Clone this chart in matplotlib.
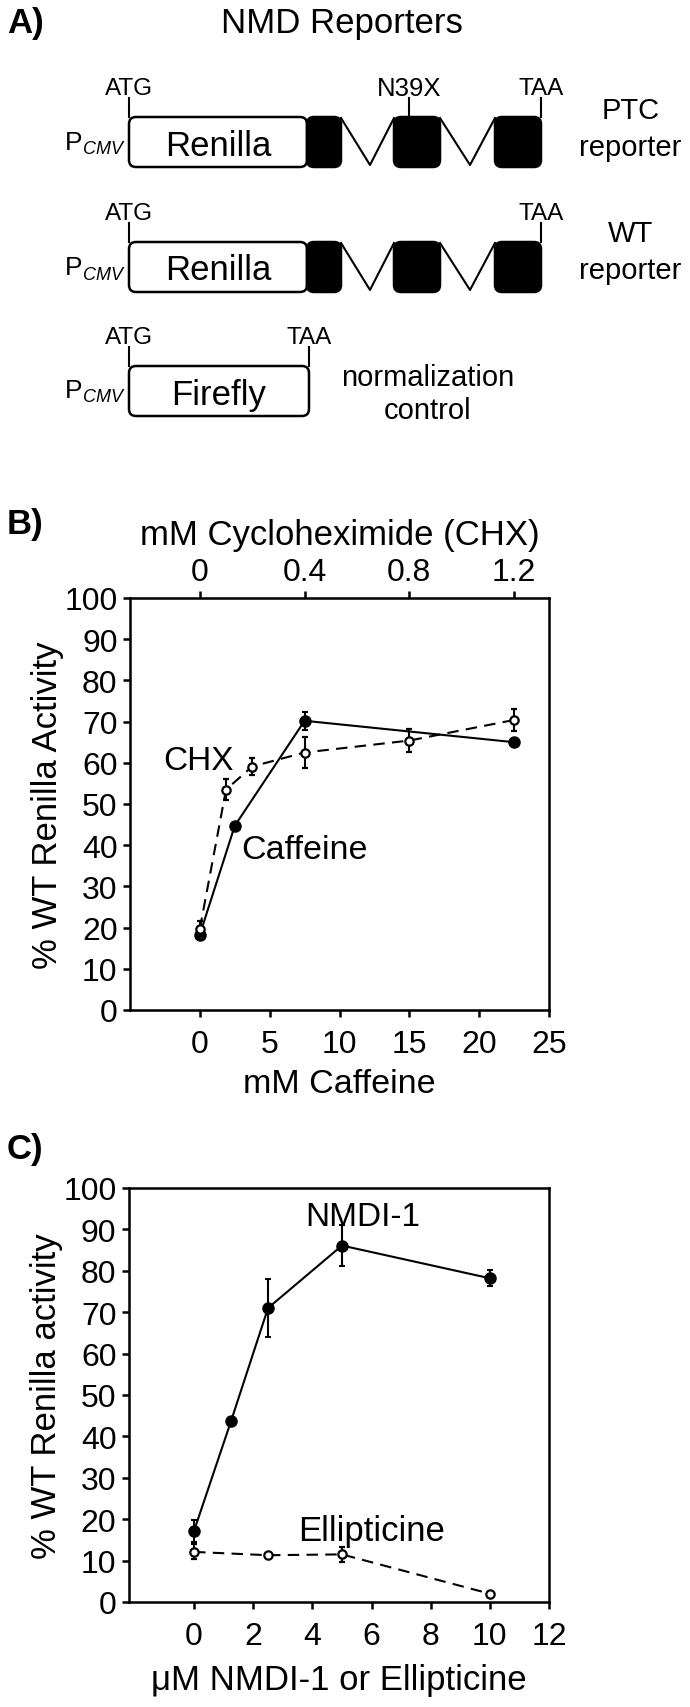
import matplotlib
matplotlib.use("Agg")
import matplotlib.pyplot as plt
from matplotlib import font_manager
from matplotlib.patches import FancyBboxPatch


def pick_font(names):
    for name in names:
        try:
            font_manager.findfont(name, fallback_to_default=False)
            return name
        except Exception:
            pass
    return "DejaVu Sans"


FONT = pick_font(["Liberation Sans", "Arial", "DejaVu Sans"])
plt.rcParams["font.family"] = [FONT, "DejaVu Sans"]

# ---- data ----
caffeine_mM = [0, 2.5, 7.5, 22.5]
caffeine_pct = [18.3, 44.7, 70.2, 65.0]
caffeine_err = [0.6, 0.5, 2.2, 0.5]

chx_mM = [0, 0.1, 0.2, 0.4, 0.8, 1.2]
chx_pct = [19.7, 53.5, 59.1, 62.5, 65.4, 70.4]
chx_err = [2.0, 2.5, 2.0, 3.7, 2.8, 2.6]

nmdi_uM = [0, 1.25, 2.5, 5, 10]
nmdi_pct = [17.2, 43.7, 71.0, 86.1, 78.2]
nmdi_err = [2.6, 0.5, 7.0, 5.0, 1.9]

ellip_uM = [0, 2.5, 5, 10]
ellip_pct = [12.1, 11.3, 11.5, 2.0]
ellip_err = [1.8, 0.4, 1.8, 0.3]

caffeine_ticks = [0, 5, 10, 15, 20, 25]
chx_ticks = [0, 0.4, 0.8, 1.2]
chx_tick_labels = ["0", "0.4", "0.8", "1.2"]
nmdi_ticks = [0, 2, 4, 6, 8, 10, 12]
pct_ticks = list(range(0, 101, 10))

# caffeine mM that lines up with 1 mM CHX on the twin axis
CHX_SCALE = 22.5 / 1.2

LW = 1.5
SPINE = 1.8
TICK = 23
LABEL = 25
DASH = (0, (5.5, 3.5))

fig = plt.figure(figsize=(6.9, 17.08), dpi=100)

# ---------------- panel A: reporter diagrams (pixel coordinates) ----------------
axA = fig.add_axes([0, 1 - 440 / 1708, 1, 440 / 1708])
axA.set_xlim(0, 690)
axA.set_ylim(440, 0)
axA.axis("off")

fig.text(7 / 690, 1 - 24 / 1708, "A)", fontsize=LABEL, fontweight="bold", va="center", ha="left")
axA.text(342, 24, "NMD Reporters", fontsize=LABEL, ha="center", va="center")


def promoter(y_mid):
    axA.text(82, y_mid, "P", fontsize=19, ha="right", va="center")
    axA.text(83, y_mid + 7, "CMV", fontsize=13, style="italic", ha="left", va="center")


def white_box(x0, x1, y0, y1, label):
    axA.add_patch(FancyBboxPatch((x0, y0), x1 - x0, y1 - y0,
                                 boxstyle="round,pad=0,rounding_size=7",
                                 fc="white", ec="black", lw=SPINE))
    axA.text((x0 + x1) / 2, (y0 + y1) / 2 + 3, label, fontsize=LABEL, ha="center", va="center")


def black_box(x0, x1, y0, y1):
    axA.add_patch(FancyBboxPatch((x0, y0), x1 - x0, y1 - y0,
                                 boxstyle="round,pad=0,rounding_size=7",
                                 fc="black", ec="black", lw=SPINE))


def site(x, y_box, label, size):
    axA.plot([x, x], [y_box - 19, y_box], color="black", lw=LW)
    axA.text(x, y_box - 29, label, fontsize=size, ha="center", va="center")


def renilla_row(y0, mutant):
    y1 = y0 + 50
    white_box(129, 307, y0, y1, "Renilla")
    black_box(307, 341, y0, y1)
    black_box(394, 440, y0, y1)
    black_box(495, 541, y0, y1)
    axA.plot([341, 370, 394], [y0 + 1, y1 - 2, y0 + 1], color="black", lw=LW)
    axA.plot([440, 470, 495], [y0 + 1, y1 - 2, y0 + 1], color="black", lw=LW)
    site(129, y0, "ATG", 17.5)
    site(541, y0, "TAA", 17.5)
    if mutant:
        site(409, y0, "N39X", 18.5)
    promoter(y0 + 25)


renilla_row(118, True)
axA.text(631, 111, "PTC", fontsize=21, ha="center", va="center")
axA.text(630, 148, "reporter", fontsize=21, ha="center", va="center")

renilla_row(243, False)
axA.text(631, 234, "WT", fontsize=21, ha="center", va="center")
axA.text(630, 271, "reporter", fontsize=21, ha="center", va="center")

white_box(129, 309, 367, 417, "Firefly")
site(129, 367, "ATG", 17.5)
site(309, 367, "TAA", 17.5)
promoter(391)
axA.text(428, 378, "normalization", fontsize=21, ha="center", va="center")
axA.text(428, 411, "control", fontsize=21, ha="center", va="center")


def style_axes(ax):
    for s in ax.spines.values():
        s.set_linewidth(SPINE)
    ax.tick_params(direction="out", length=5, width=SPINE, labelsize=TICK)
    ax.tick_params(axis="y", right=False, pad=4)
    ax.set_ylim(0, 100)
    ax.set_yticks(pct_ticks)


# ---------------- panel B: caffeine / CHX ----------------
axB = fig.add_axes([130 / 690, 1 - 1011 / 1708, 419 / 690, 412 / 1708])
style_axes(axB)
axB.tick_params(axis="x", top=False, pad=9)
axB.set_xlim(-5, 25)
axB.set_xticks(caffeine_ticks)
axB.set_xlabel("mM Caffeine", fontsize=LABEL - 0.5, labelpad=6)
axB.set_ylabel("% WT Renilla Activity", fontsize=LABEL, labelpad=0)
axB.errorbar(caffeine_mM, caffeine_pct, yerr=caffeine_err, color="black", lw=LW,
             marker="o", ms=8, mfc="black", mec="black", elinewidth=LW, capsize=2.5,
             capthick=LW)
axB.text(3.0, 39, "Caffeine", fontsize=24.5, ha="left", va="center")
axB.text(-0.1, 60.5, "CHX", fontsize=24, ha="center", va="center")

axBt = axB.twiny()
axBt.set_xlim(-5 / CHX_SCALE, 25 / CHX_SCALE)
axBt.set_xticks(chx_ticks)
axBt.set_xticklabels(chx_tick_labels)
axBt.tick_params(direction="out", length=5, width=SPINE, labelsize=TICK, pad=3)
axBt.set_xlabel("mM Cycloheximide (CHX)", fontsize=LABEL, labelpad=9)
axBt.errorbar(chx_mM, chx_pct, yerr=chx_err, color="black", lw=LW, ls=DASH,
              marker="o", ms=6, mfc="white", mec="black", mew=1.6,
              elinewidth=LW, capsize=2.5, capthick=LW)
fig.text(7 / 690, 1 - 525 / 1708, "B)", fontsize=LABEL, fontweight="bold", va="center", ha="left")

# ---------------- panel C: NMDI-1 / ellipticine ----------------
axC = fig.add_axes([129 / 690, 1 - 1603 / 1708, 420 / 690, 414 / 1708])
style_axes(axC)
axC.tick_params(axis="x", top=False, pad=9)
axC.set_xlim(-2.2, 12)
axC.set_xticks(nmdi_ticks)
axC.set_xlabel("\u03bcM NMDI-1 or Ellipticine", fontsize=LABEL, labelpad=8)
axC.set_ylabel("% WT Renilla activity", fontsize=LABEL, labelpad=0)
axC.errorbar(nmdi_uM, nmdi_pct, yerr=nmdi_err, color="black", lw=LW,
             marker="o", ms=8, mfc="black", mec="black", elinewidth=LW, capsize=2.5,
             capthick=LW)
axC.errorbar(ellip_uM, ellip_pct, yerr=ellip_err, color="black", lw=LW, ls=DASH,
             marker="o", ms=6, mfc="white", mec="black", mew=1.6,
             elinewidth=LW, capsize=2.5, capthick=LW)
axC.text(5.7, 93, "NMDI-1", fontsize=24, ha="center", va="center")
axC.text(6.0, 17.2, "Ellipticine", fontsize=25, ha="center", va="center")
fig.text(7 / 690, 1 - 1150 / 1708, "C)", fontsize=LABEL, fontweight="bold", va="center", ha="left")

fig.savefig("out.png", dpi=100)
